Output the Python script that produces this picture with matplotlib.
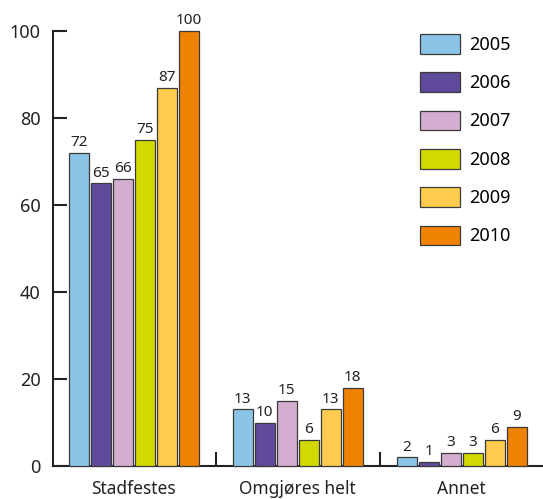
import matplotlib
matplotlib.use("Agg")
import matplotlib.pyplot as plt
import numpy as np

plt.rcParams['font.family'] = ['Noto Sans', 'DejaVu Sans']

categories = ["Stadfestes", "Omgjøres helt", "Annet"]
years = ["2005", "2006", "2007", "2008", "2009", "2010"]
values = {
    "2005": [72, 13, 2],
    "2006": [65, 10, 1],
    "2007": [66, 15, 3],
    "2008": [75, 6, 3],
    "2009": [87, 13, 6],
    "2010": [100, 18, 9],
}
colors = ["#8CC4E8", "#5F4A9B", "#D4AED0", "#D2D800", "#FECB4E", "#EF8200"]
yticks = [0, 20, 40, 60, 80, 100]

fig = plt.figure(figsize=(5.43, 4.99), dpi=100)
ax = fig.add_axes([53/543, 33/499, 1 - 53/543, 435/499])

x = np.arange(len(categories))
slot = 0.134
width = 0.122
for i, (yr, col) in enumerate(zip(years, colors)):
    pos = x + (i - 2.5) * slot
    bars = ax.bar(pos, values[yr], width=width, color=col, edgecolor="#3a3a3a",
                  linewidth=0.9, label=yr, clip_on=False, zorder=3)
    for b, v in zip(bars, values[yr]):
        ax.text(b.get_x() + b.get_width() / 2, v + 0.6, str(v), ha="center",
                va="bottom", fontsize=11, color="#222222")

ax.set_xlim(-0.493, 2.495)
ax.set_ylim(0, 100)
ax.set_yticks(yticks)
ax.tick_params(axis="y", direction="in", length=10, width=1.5, labelsize=13,
               pad=9, colors="#222222")
ax.set_xticks(x)
ax.set_xticklabels(categories)
ax.tick_params(axis="x", length=0, labelsize=12.5, pad=10, colors="#222222")
ax.set_xticks([0.5, 1.5], minor=True)
ax.tick_params(axis="x", which="minor", direction="in", length=10, width=1.5,
               colors="#222222")

for s in ["top", "right"]:
    ax.spines[s].set_visible(False)
for s in ["left", "bottom"]:
    ax.spines[s].set_linewidth(1.5)
    ax.spines[s].set_color("#222222")

ax.legend(loc="upper left", bbox_to_anchor=(420/543, 1 - 34/499),
          bbox_transform=fig.transFigure, frameon=False, fontsize=13,
          handlelength=2.2, handleheight=1.3, labelspacing=1.02,
          handletextpad=0.5, borderpad=0, borderaxespad=0)

fig.savefig("out.png", dpi=100)
